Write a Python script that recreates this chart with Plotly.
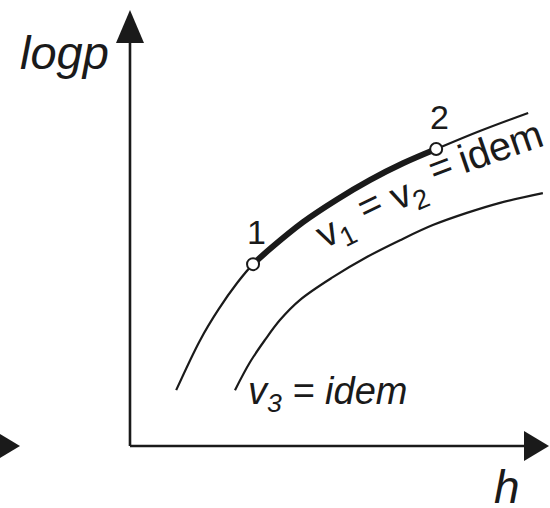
import plotly.graph_objects as go

# Isochoric lines (v = const) in a log p - h diagram, arbitrary units
h_v12 = [1.10, 1.67, 2.10, 2.55, 2.93, 3.33, 4.12, 4.93, 5.71, 6.50, 7.29, 8.33, 9.48]
p_v12 = [1.33, 2.52, 3.24, 3.88, 4.33, 4.69, 5.33, 5.87, 6.33, 6.73, 7.07, 7.50, 7.93]

h_v3 = [2.50, 2.86, 3.21, 3.57, 4.05, 4.83, 5.64, 6.43, 7.21, 8.02, 8.81, 9.83]
p_v3 = [1.33, 2.00, 2.52, 3.00, 3.48, 4.02, 4.50, 4.90, 5.26, 5.55, 5.79, 6.02]

# States 1 and 2 on the v1 = v2 line
state_labels = ["1", "2"]
state_h = [2.93, 7.29]
state_p = [4.33, 7.07]

# Axis extents (data units) and plotting window
H_RANGE = [-3.095, 10.0]
P_RANGE = [-1.476, 10.619]
UNIT = 42.0  # pixels per data unit on both axes

FONT = "Liberation Sans, Arial, Helvetica, sans-serif"
INK = "#1a1a1a"

fig = go.Figure()

# v1 = v2 = idem
fig.add_trace(go.Scatter(
    x=h_v12, y=p_v12, mode="lines",
    line=dict(color=INK, width=2.2, shape="spline", smoothing=1.0),
    hoverinfo="skip", showlegend=False))

# v3 = idem
fig.add_trace(go.Scatter(
    x=h_v3, y=p_v3, mode="lines",
    line=dict(color=INK, width=2.2, shape="spline", smoothing=1.0),
    hoverinfo="skip", showlegend=False))

# Process 1 -> 2 along the isochore (bold)
seg = [(h, p) for h, p in zip(h_v12, p_v12) if state_h[0] <= h <= state_h[1]]
fig.add_trace(go.Scatter(
    x=[s[0] for s in seg], y=[s[1] for s in seg], mode="lines",
    line=dict(color=INK, width=6, shape="spline", smoothing=1.0),
    hoverinfo="skip", showlegend=False))

# State points
fig.add_trace(go.Scatter(
    x=state_h, y=state_p, mode="markers",
    marker=dict(symbol="circle", size=12, color="white",
                line=dict(color=INK, width=2)),
    hoverinfo="skip", showlegend=False))

# Axes with arrowheads
def px(n):
    return n / UNIT

h_tip = px(419)
p_tip = px(436)
h_head, h_half = px(25), px(15)
p_head, p_half = px(33), px(14)

shapes = [
    dict(type="line", x0=0, y0=0, x1=h_tip - h_head, y1=0,
         line=dict(color=INK, width=2.6)),
    dict(type="line", x0=0, y0=0, x1=0, y1=p_tip - p_head,
         line=dict(color=INK, width=2.6)),
    dict(type="path",
         path=f"M {h_tip} 0 L {h_tip - h_head} {h_half} L {h_tip - h_head} {-h_half} Z",
         fillcolor=INK, line=dict(width=0)),
    dict(type="path",
         path=f"M 0 {p_tip} L {p_half} {p_tip - p_head} L {-p_half} {p_tip - p_head} Z",
         fillcolor=INK, line=dict(width=0)),
]
# arrowhead entering from the left edge
stray_tip = px(-110)
shapes.append(dict(
    type="path",
    path=f"M {stray_tip} 0 L {stray_tip - h_head} {h_half} L {stray_tip - h_head} {-h_half} Z",
    fillcolor=INK, line=dict(width=0)))

annotations = []


def label(text, x, y, size, angle=0):
    annotations.append(dict(
        text=text, x=x, y=y, xref="x", yref="y", showarrow=False,
        xanchor="center", yanchor="middle", textangle=angle,
        font=dict(family=FONT, size=size, color=INK)))


# axis titles
label("<i>logp</i>", -1.57, 9.36, 47)
label("<i>h</i>", 8.97, -0.98, 46)

# state numbers
for name, h, p in zip(state_labels, state_h, state_p):
    label(name, h + px(3), p + px(32), 34)

# text along the v1 = v2 line
label("v<sub>1</sub>", 4.90, 5.10, 39, -27)
label("=", 5.71, 5.76, 39, -26)
label("v<sub>2</sub>", 6.62, 6.00, 39, -23)
label("=", 7.40, 6.65, 39, -21)
label("idem", 8.82, 7.14, 40, -19)

# v3 label
label("<i>v<sub>3</sub> = idem</i>", 4.70, 1.24, 38)

fig.update_layout(
    width=550, height=508,
    margin=dict(l=0, r=0, t=0, b=0),
    paper_bgcolor="white", plot_bgcolor="white",
    xaxis=dict(range=H_RANGE, visible=False, fixedrange=True),
    yaxis=dict(range=P_RANGE, visible=False, fixedrange=True),
    shapes=shapes, annotations=annotations,
    showlegend=False,
)

fig.write_html("out.html")
